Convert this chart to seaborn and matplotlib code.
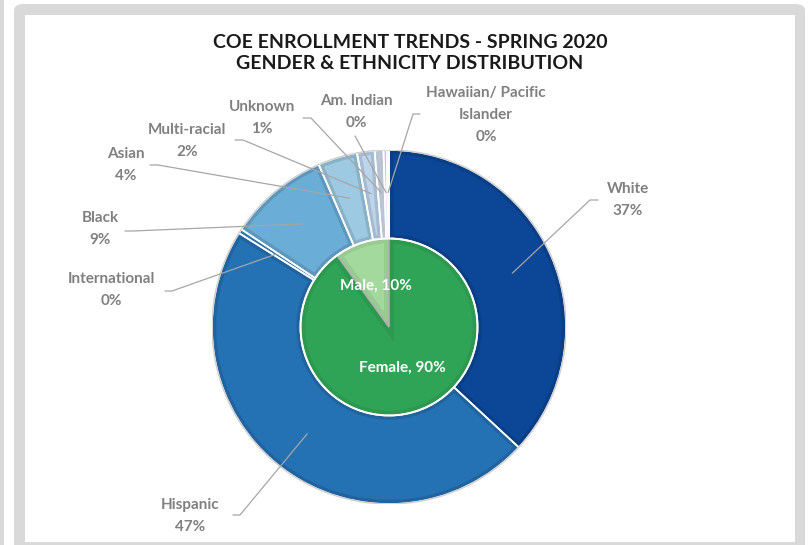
import numpy as np
import matplotlib
matplotlib.use("Agg")
import matplotlib.pyplot as plt
import matplotlib.patches as mpatches
import seaborn as sns

# ─── Data ─────────────────────────────────────────────────────────────────────
ethnicity = ["White", "Hispanic", "International", "Black", "Asian",
             "Multi-racial", "Unknown", "Am. Indian", "Hawaiian/ Pacific\nIslander"]
eth_share = [36.9, 47.0, 0.4, 9.2, 3.6, 1.6, 0.8, 0.3, 0.2]

gender = ["Female", "Male"]
gender_share = [90, 10]

# ─── Colours ──────────────────────────────────────────────────────────────────
ETH_COLORS = ["#0B4697", "#2471B4", "#3F86C2", "#6AADD6", "#9DCAE2",
              "#BDD5EC", "#D2DEEE", "#DCE3EE", "#E4E9F1"]
GEN_COLORS = ["#30A456", "#A3D99C"]
LABEL_GRAY = "#808080"
LINE_GRAY = "#A6A6A6"

# ─── Layout (pixels, image coords) ───────────────────────────────────────────
W, H = 810, 545
CX, CY, R = 389, 327, 177
# text centre, tail (end near text), elbow
label_txt = [(628, 200), (190, 516), (111, 290), (100, 229), (126, 165),
             (187, 141), (262, 118), (356, 112), (486, 115)]
label_tail = [(598, 200), (233, 515), (165, 291), (125, 231), (150, 165),
              (235, 140), (303, 118), (355, 136), (420, 114)]
label_elbow = [(590, 200), (240, 515), (172, 291), (133, 231), (158, 165),
               (243, 140), (311, 118), (355, 136), (413, 114)]


def px(x, y):
    return (x - CX) / R, (CY - y) / R


def darker(c, f=0.88):
    r, g, b = matplotlib.colors.to_rgb(c)
    return (r * f, g * f, b * f)


sns.set_style("white")
plt.rcParams["font.family"] = ["Lato", "DejaVu Sans"]

fig = plt.figure(figsize=(W / 100, H / 100), dpi=100)
fig.patch.set_facecolor("white")

# card background
fig.patches.append(mpatches.Rectangle((0, 0), 4 / W, 1, transform=fig.transFigure,
                                      facecolor="#D9D9D9", edgecolor="none", zorder=-3))
fig.patches.append(mpatches.FancyBboxPatch((14 / W, -0.05), (805 - 14) / W, (H - 4) / H + 0.05,
                                           boxstyle="round,pad=0,rounding_size=0.012",
                                           transform=fig.transFigure, facecolor="#D9D9D9",
                                           edgecolor="none", zorder=-3))
fig.patches.append(mpatches.Rectangle((25 / W, 3 / H), (795 - 25) / W, (542 - 15) / H,
                                      transform=fig.transFigure, facecolor="white",
                                      edgecolor="none", zorder=-2))

fig.text(410 / W, 1 - 42 / H, "COE ENROLLMENT TRENDS - SPRING 2020",
         ha="center", va="center", fontsize=14, fontweight="bold", color="#1A1A1A")
fig.text(410 / W, 1 - 63 / H, "GENDER & ETHNICITY DISTRIBUTION",
         ha="center", va="center", fontsize=14, fontweight="bold", color="#1A1A1A")

ax = fig.add_axes([(CX - R) / W, (H - CY - R) / H, 2 * R / W, 2 * R / H])

# outer ring: ethnicity
wedges, _ = ax.pie(eth_share, colors=ETH_COLORS, startangle=90, counterclock=False,
                   radius=1, wedgeprops=dict(width=0.5, edgecolor="white", linewidth=1.4))
for w, c in zip(wedges, ETH_COLORS):
    inner = mpatches.Wedge(w.center, w.r, w.theta1, w.theta2, width=w.width,
                           facecolor="none", edgecolor=darker(c), linewidth=6, zorder=3)
    ax.add_patch(inner)
    inner.set_clip_path(w)
    ax.add_patch(mpatches.Wedge(w.center, w.r, w.theta1, w.theta2, width=w.width,
                                facecolor="none", edgecolor="white", linewidth=1.2, zorder=4))
ax.add_patch(mpatches.Circle((0, 0), 1.0, facecolor="none", edgecolor="#CFCFCF",
                             linewidth=1.0, zorder=5))

# inner pie: gender
gw, _ = ax.pie(gender_share, colors=GEN_COLORS, startangle=90, counterclock=False,
               radius=0.5, wedgeprops=dict(edgecolor="white", linewidth=1.2))
for w, c in zip(gw, GEN_COLORS):
    inner = mpatches.Wedge(w.center, w.r, w.theta1, w.theta2,
                           facecolor="none", edgecolor=darker(c, 0.93), linewidth=7, zorder=3)
    ax.add_patch(inner)
    inner.set_clip_path(w)
ax.add_patch(mpatches.Wedge((0, 0), 0.5, gw[1].theta1, gw[1].theta2, facecolor="none",
                            edgecolor="#B0B0B0", linewidth=1.2, zorder=4))
ax.add_patch(mpatches.Circle((0, 0), 0.5, facecolor="none", edgecolor="white",
                             linewidth=1.4, zorder=5))

# pie() resets the limits, so fix them afterwards
ax.set_xlim(-1, 1)
ax.set_ylim(-1, 1)
ax.set_aspect("equal")
ax.axis("off")

total_g = sum(gender_share)
for w, name, v in zip(gw, gender, gender_share):
    mid = np.deg2rad((w.theta1 + w.theta2) / 2)
    ax.text(0.245 * np.cos(mid), 0.245 * np.sin(mid), f"{name}, {v / total_g * 100:.0f}%",
            ha="center", va="center", color="white", fontsize=11, fontweight="bold", zorder=6)

# ethnicity labels with leader lines
total_e = sum(eth_share)
for w, name, v, t, tl, el in zip(wedges, ethnicity, eth_share, label_txt, label_tail, label_elbow):
    mid = np.deg2rad((w.theta1 + w.theta2) / 2)
    p0 = (0.76 * np.cos(mid), 0.76 * np.sin(mid))
    p1, p2 = px(*el), px(*tl)
    ax.plot([p0[0], p1[0], p2[0]], [p0[1], p1[1], p2[1]], color=LINE_GRAY,
            linewidth=0.9, clip_on=False, zorder=7)
    tx, ty = px(*t)
    ax.text(tx, ty, f"{name}\n{v / total_e * 100:.0f}%", ha="center", va="center",
            color=LABEL_GRAY, fontsize=11, fontweight="bold", linespacing=1.7,
            clip_on=False, zorder=7)

fig.savefig("out.png", dpi=100)
